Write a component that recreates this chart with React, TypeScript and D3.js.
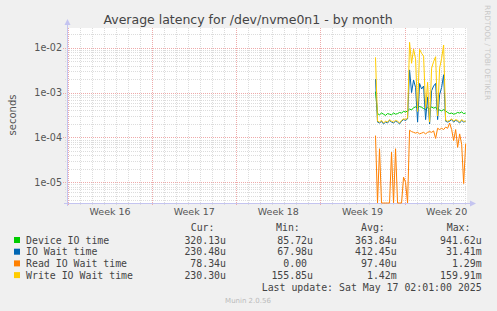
import React from 'react';
import * as d3 from 'd3';

// Munin "by month" latency graph for /dev/nvme0n1
const W = 497;
const H = 311;
const plot = { left: 67, top: 28, width: 400, height: 175 };

const domainStart = new Date(Date.UTC(2025, 3, 13, 22, 0));
const domainEnd = new Date(Date.UTC(2025, 4, 17, 4, 40));
const seriesStart = Date.UTC(2025, 4, 9, 14, 0);
const stepMs = 4 * 3600 * 1000;

const deviceIO = [
  1.05e-3, 3.4e-4, 3.2e-4, 3.5e-4, 3.3e-4, 3.1e-4, 3.4e-4, 3.3e-4, 3.2e-4, 3.5e-4,
  3.3e-4, 3.4e-4, 3.6e-4, 3.5e-4, 3.8e-4, 3.7e-4, 3.9e-4, 4.3e-4, 4.1e-4, 4.6e-4,
  4.8e-4, 4.5e-4, 4.9e-4, 4.7e-4, 4.4e-4, 4.2e-4, 4.6e-4, 4.3e-4, 4.8e-4, 4.5e-4,
  4.7e-4, 4.0e-4, 4.1e-4, 3.9e-4, 4.2e-4, 3.9e-4, 3.6e-4, 3.4e-4, 3.5e-4, 3.3e-4,
  3.4e-4, 3.6e-4, 3.5e-4, 3.7e-4, 3.4e-4, 3.5e-4,
];
const ioWait = [
  2.0e-3, 2.2e-4, 2.1e-4, 2.3e-4, 2.0e-4, 2.2e-4, 2.1e-4, 2.4e-4, 2.2e-4, 2.1e-4,
  2.3e-4, 2.2e-4, 2.0e-4, 2.3e-4, 2.5e-4, 2.4e-4, 2.6e-4, 3.2e-3, 1.0e-3, 1.9e-3,
  1.3e-3, 2.2e-4, 1.6e-3, 1.2e-3, 1.4e-3, 2.5e-4, 8.0e-4, 2.0e-4, 1.1e-3, 1.4e-3,
  1.6e-3, 2.5e-4, 9.0e-4, 1.3e-3, 2.5e-3, 2.3e-4, 2.2e-4, 2.3e-4, 2.5e-4, 2.2e-4,
  2.4e-4, 2.3e-4, 2.1e-4, 2.4e-4, 2.2e-4, 2.3e-4,
];
const readWait = [
  1.1e-4, 0, 5.6e-5, 0, 0, 0, 0, 0, 4.7e-5, 0,
  5.6e-5, 0, 0, 0, 1.3e-5, 1.0e-5, 0, 1.45e-4, 1.35e-4, 1.3e-4,
  1.25e-4, 1.3e-4, 1.2e-4, 1.25e-4, 1.3e-4, 1.2e-4, 1.3e-4, 1.35e-4, 1.3e-4, 1.4e-4,
  9.5e-5, 1.6e-4, 1.5e-4, 1.6e-4, 1.5e-4, 1.7e-4, 1.6e-4, 2.1e-4, 1.5e-4, 8.5e-5,
  1.5e-4, 6.0e-5, 1.2e-4, 7.0e-5, 9.4e-6, 7.3e-5,
];
const writeWait = [
  6.1e-3, 2.3e-4, 2.2e-4, 2.4e-4, 2.1e-4, 2.3e-4, 2.2e-4, 2.5e-4, 2.3e-4, 2.2e-4,
  2.4e-4, 2.3e-4, 2.1e-4, 2.4e-4, 2.6e-4, 2.5e-4, 2.7e-4, 1.32e-2, 4.5e-3, 9.3e-3,
  5.6e-3, 3.8e-4, 9.2e-3, 7.5e-3, 6.5e-3, 4.5e-4, 1.7e-3, 2.2e-4, 3.5e-3, 4.9e-3,
  6.3e-3, 3.0e-4, 3.5e-3, 5.8e-3, 1.15e-2, 2.4e-4, 2.3e-4, 2.4e-4, 2.6e-4, 2.3e-4,
  2.5e-4, 2.4e-4, 2.2e-4, 2.5e-4, 2.3e-4, 2.3e-4,
];

const seriesNames = ['Device IO time', 'IO Wait time', 'Read IO Wait time', 'Write IO Wait time'];
const seriesColors = ['#00cc00', '#0066b3', '#ff8000', '#ffcc00'];
const seriesData = [deviceIO, ioWait, readWait, writeWait];
const curVals = ['320.13u', '230.48u', '78.34u', '230.30u'];
const minVals = ['85.72u', '67.98u', '0.00\u00a0', '155.85u'];
const avgVals = ['363.84u', '412.45u', '97.40u', '1.42m'];
const maxVals = ['941.62u', '31.41m', '1.29m', '159.91m'];
const yTicks = [1e-2, 1e-3, 1e-4, 1e-5];

const x = d3.scaleUtc().domain([domainStart, domainEnd]).range([plot.left, plot.left + plot.width]);
const y = d3.scaleLog().domain([3.46e-6, 2.75e-2]).range([plot.top + plot.height, plot.top]).clamp(true);

const tickFmt = (v: number) => {
  const e = Math.round(Math.log10(v));
  return `1e-${String(-e).padStart(2, '0')}`;
};

export default function App() {
  const bottom = plot.top + plot.height;
  const right = plot.left + plot.width;

  const days = d3.utcDay.range(d3.utcDay.ceil(domainStart), domainEnd);
  const mondays = d3.utcMonday.range(domainStart, domainEnd);
  const weekLabels = d3.utcMonday
    .range(d3.utcMonday.offset(domainStart, -1), domainEnd)
    .map((m) => ({ m, c: new Date(+m + 3.5 * 864e5) }))
    .filter((d) => d.c > domainStart && d.c < domainEnd);

  const minorY: number[] = [];
  for (let e = -6; e <= -2; e++) {
    for (let k = 2; k <= 9; k++) {
      const v = k * Math.pow(10, e);
      if (v > 3.46e-6 && v < 2.75e-2) minorY.push(v);
    }
  }

  const line = d3
    .line<number>()
    .x((_, i) => x(new Date(seriesStart + i * stepMs)))
    .y((d) => y(d <= 0 ? 3.46e-6 : d));

  const rowY = [243.5, 255.2, 266.9, 278.6];
  const mono = '"DejaVu Sans Mono", monospace';
  const sans = '"DejaVu Sans", sans-serif';
  const minorC = '#dcdcdc';
  const majorC = '#eeaaaa';

  return (
    <svg width={W} height={H} style={{ position: 'absolute', left: 0, top: 0 }}>
      <rect width={W} height={H} fill="#f0f0f0" />
      <rect x={plot.left} y={plot.top} width={plot.width} height={plot.height} fill="#ffffff" />

      {/* minor grid */}
      {minorY.map((v) => (
        <line key={'my' + v} x1={plot.left - 2} x2={right} y1={Math.round(y(v)) + 0.5} y2={Math.round(y(v)) + 0.5}
          stroke={minorC} strokeDasharray="1,1" />
      ))}
      {days.map((d) => (
        <line key={'dx' + +d} x1={Math.round(x(d)) + 0.5} x2={Math.round(x(d)) + 0.5} y1={plot.top} y2={bottom + 2}
          stroke={minorC} strokeDasharray="1,1" />
      ))}
      {/* major grid */}
      {yTicks.map((v) => (
        <line key={'My' + v} x1={plot.left - 4} x2={right} y1={Math.round(y(v)) + 0.5} y2={Math.round(y(v)) + 0.5}
          stroke={majorC} strokeDasharray="1,1" />
      ))}
      {mondays.map((d) => (
        <line key={'Mx' + +d} x1={Math.round(x(d)) + 0.5} x2={Math.round(x(d)) + 0.5} y1={plot.top} y2={bottom + 3}
          stroke={majorC} strokeDasharray="1,1" />
      ))}

      {/* axes */}
      <line x1={plot.left + 0.5} x2={plot.left + 0.5} y1={bottom + 3} y2={plot.top - 4} stroke="#c4c4f0" />
      <path d={`M${plot.left - 2.5},${plot.top - 3} L${plot.left + 3.5},${plot.top - 3} L${plot.left + 0.5},${plot.top - 9} Z`} fill="#c4c4f0" />
      <line x1={plot.left - 3} x2={right + 4} y1={bottom + 0.5} y2={bottom + 0.5} stroke="#c4c4f0" />
      <path d={`M${right + 3},${bottom - 2.5} L${right + 3},${bottom + 3.5} L${right + 9},${bottom + 0.5} Z`} fill="#c4c4f0" />

      {/* data */}
      {seriesData.map((s, i) => (
        <path key={seriesNames[i]} d={line(s) ?? ''} fill="none" stroke={seriesColors[i]} strokeWidth={1} />
      ))}

      {/* tick labels */}
      {yTicks.map((v) => (
        <text key={'t' + v} x={62} y={y(v) + 3.5} textAnchor="end" fontFamily={sans} fontSize={9.6} fill="#555">
          {tickFmt(v)}
        </text>
      ))}
      {weekLabels.map((d) => (
        <text key={'w' + +d.m} x={x(d.c)} y={215} textAnchor="middle" fontFamily={sans} fontSize={9.5} fill="#555">
          {`Week ${d3.utcFormat('%V')(d.m)}`}
        </text>
      ))}

      {/* titles */}
      <text x={248} y={24} textAnchor="middle" fontFamily={sans} fontSize={12.5} fill="#444">
        Average latency for /dev/nvme0n1 - by month
      </text>
      <text transform="translate(15.5,115) rotate(-90)" textAnchor="middle" fontFamily={sans} fontSize={10} fill="#555">
        seconds
      </text>
      <text transform="translate(485,5) rotate(90)" fontFamily={sans} fontSize={7.4} fill="#c8c8c8">
        RRDTOOL / TOBI OETIKER
      </text>

      {/* legend */}
      <g fontFamily={mono} fontSize={9.9} fill="#444" style={{ whiteSpace: 'pre' }}>
        <text x={190.7} y={230.5}>Cur:</text>
        <text x={276} y={230.5}>Min:</text>
        <text x={361} y={230.5}>Avg:</text>
        <text x={446.7} y={230.5}>Max:</text>
        {seriesNames.map((n, i) => (
          <g key={n}>
            <rect x={14} y={rowY[i] - 6.5} width={6} height={6} fill={seriesColors[i]} />
            <text x={26} y={rowY[i]}>{n}</text>
            <text x={226} y={rowY[i]} textAnchor="end">{curVals[i]}</text>
            <text x={313} y={rowY[i]} textAnchor="end">{minVals[i]}</text>
            <text x={396.7} y={rowY[i]} textAnchor="end">{avgVals[i]}</text>
            <text x={481.7} y={rowY[i]} textAnchor="end">{maxVals[i]}</text>
          </g>
        ))}
        <text x={481.7} y={291} textAnchor="end">Last update: Sat May 17 02:01:00 2025</text>
      </g>
      <text x={248} y={303} textAnchor="middle" fontFamily={sans} fontSize={7} fill="#bbbbbb">
        Munin 2.0.56
      </text>
    </svg>
  );
}
